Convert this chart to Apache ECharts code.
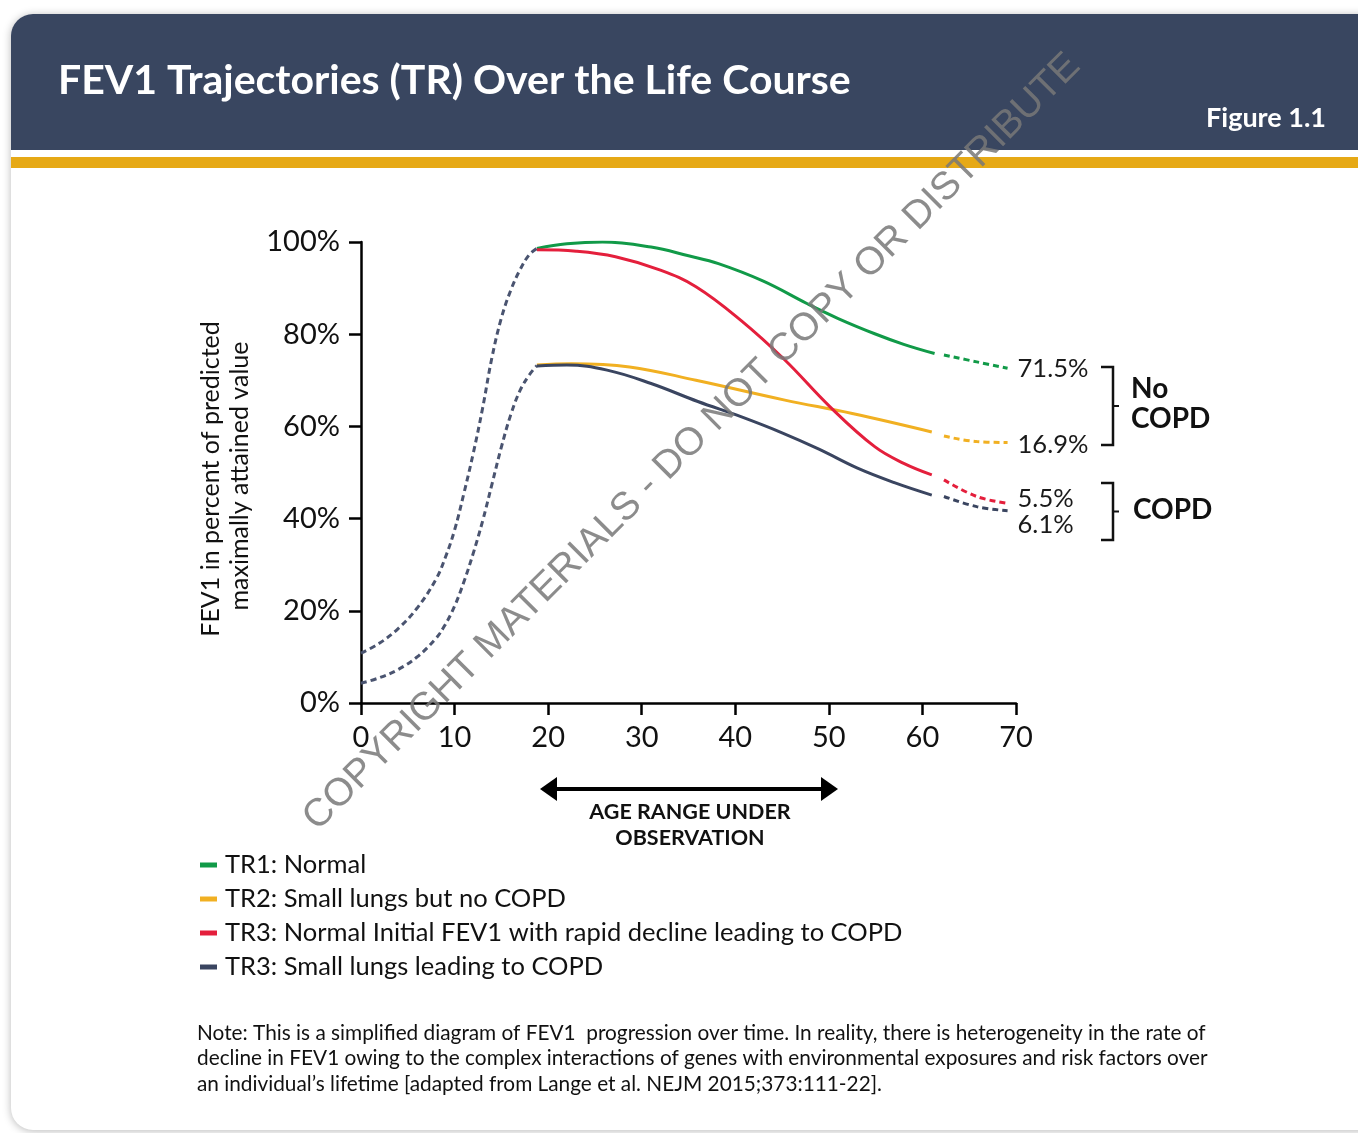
<!DOCTYPE html>
<html>
<head>
<meta charset="utf-8">
<script src="https://cdn.jsdelivr.net/npm/echarts@6/dist/echarts.min.js"></script>
<style>
	html, body { margin: 0; padding: 0; background: #fff; }
	#main { width: 1358px; height: 1133px; }
</style>
</head>
<body>
<div id="main"></div>
<script>
// data (age in years, FEV1 in % of max)
var names = ['TR1: Normal', 'TR2: Small lungs but no COPD', 'TR3: Normal Initial FEV1 with rapid decline leading to COPD', 'TR3: Small lungs leading to COPD'];
var colors = ['#119a48', '#f1b022', '#e41f3c', '#3a4560'];
var shares = ['71.5%', '16.9%', '5.5%', '6.1%'];

// growth phase (dashed, before age ~19)
var growAges = [0, 2, 4, 6, 8, 9, 10, 11, 12, 13, 14, 15, 16, 17, 18, 18.8];
var growHigh = [10.8, 13, 16.2, 20.6, 26.8, 31.5, 37.5, 45.5, 54.2, 64, 75, 83.5, 89.5, 94, 97.3, 98.6];
var growLow = [4.3, 5.5, 7.3, 10, 14, 17, 21, 26.3, 32.5, 39.5, 47.5, 55.5, 62.5, 67.8, 71.2, 73.2];

// observed part (solid)
var tr1Ages = [18.8, 22, 25.8, 31, 35, 38.2, 43, 47.7, 51, 54.9, 58, 61.3];
var tr1 = [98.6, 99.6, 100, 98.9, 97, 95.3, 91.5, 86.6, 83.4, 80.1, 77.8, 75.8];
var tr2Ages = [18.8, 22.5, 28.7, 35.8, 45.3, 52.5, 61];
var tr2 = [73.3, 73.6, 72.9, 70, 65.7, 62.8, 58.8];
var tr3Ages = [18.8, 23, 27.2, 32, 35.8, 40.6, 45.3, 50.1, 54.9, 58, 61];
var tr3 = [98.3, 98, 96.8, 93.9, 90.3, 83, 74.4, 64.3, 55.6, 52, 49.5];
var tr4Ages = [18.8, 22, 26.3, 31, 36, 40.6, 45, 49, 53, 57, 61];
var tr4 = [73.1, 73.3, 72.2, 69.3, 65.4, 62.1, 58.6, 55.0, 51.0, 47.8, 45.1];

// projected part (dashed)
var tailAges = [62.3, 65.8, 69.1];
var tail1 = [75.5, 74, 72.6];
var tail2 = [57.9, 56.7, 56.5];
var tail3 = [48.4, 44.8, 43.3];
var tail4 = [44.8, 42.6, 41.7];

var xTicks = [0, 70, 10];
var yTicks = [0, 100, 20];

var pairs = function(x, y){
	var out = [];
	for(var i = 0; i < x.length; i++){
		out.push([x[i], y[i]]);
	}
	return out;
}

var solidLine = function(name, x, y, color){
	return {
		name: name, type: 'line', data: pairs(x, y),
		smooth: 0.4, showSymbol: false, silent: true,
		lineStyle: {color: color, width: 3},
		itemStyle: {color: color}
	};
}

var dashLine = function(x, y, color, share, offset){
	var s = {
		type: 'line', data: pairs(x, y),
		smooth: 0.4, showSymbol: false, silent: true,
		lineStyle: {color: color, width: 3, type: [6, 4]},
		itemStyle: {color: color}
	};
	if(share){
		s.endLabel = {
			show: true, formatter: share, distance: 10, offset: offset,
			fontFamily: 'Lato', fontSize: 25.5, color: '#1a1a1a'
		};
	}
	return s;
}

var font = 'Lato';
var tails = [tail1, tail2, tail3, tail4];
var labelOffsets = [[0, 0], [0, 2], [0, -5], [0, 14]];

var series = [
	dashLine(growAges, growHigh, '#4a5470'),
	dashLine(growAges, growLow, '#4a5470'),
	solidLine(names[0], tr1Ages, tr1, colors[0]),
	solidLine(names[1], tr2Ages, tr2, colors[1]),
	solidLine(names[2], tr3Ages, tr3, colors[2]),
	solidLine(names[3], tr4Ages, tr4, colors[3])
];
for(var i = 0; i < 4; i++){
	series.push(dashLine(tailAges, tails[i], colors[i], shares[i], labelOffsets[i]));
}

var txt = function(x, y, text, size, opt){
	opt = opt || {};
	return {
		type: 'text', x: x, y: y, rotation: opt.rotation || 0, z: opt.z || 10,
		style: {
			text: text, fill: opt.fill || '#111', fontFamily: opt.family || font,
			fontSize: size, fontWeight: opt.weight || 'normal',
			align: opt.align || 'left', verticalAlign: 'middle'
		}
	};
}

var bracket = function(top, bottom){
	var mid = (top + bottom) / 2;
	return [
		{type: 'polyline', z: 10, shape: {points: [[1101, top], [1113, top], [1113, bottom], [1101, bottom]]}, style: {stroke: '#111', lineWidth: 2.5, fill: null}},
		{type: 'line', z: 10, shape: {x1: 1113, y1: mid, x2: 1119, y2: mid}, style: {stroke: '#111', lineWidth: 2}}
	];
}

var graphics = [
	{type: 'rect', z: -5, shape: {x: 11, y: 14, width: 1360, height: 1116, r: [22, 0, 0, 22]},
		style: {fill: '#fff', shadowBlur: 8, shadowColor: 'rgba(0,0,0,0.28)', shadowOffsetY: 1}},
	{type: 'rect', z: -4, shape: {x: 11, y: 14, width: 1360, height: 136, r: [22, 0, 0, 0]}, style: {fill: '#394660'}},
	{type: 'rect', z: -4, shape: {x: 11, y: 157, width: 1360, height: 11}, style: {fill: '#e6a916'}},
	txt(58, 81, 'FEV1 Trajectories (TR) Over the Life Course', 41, {fill: '#fff', weight: 'bold'}),
	txt(1326, 118, 'Figure 1.1', 27, {fill: '#fff', weight: 'bold', align: 'right'}),
	txt(211, 479, 'FEV1 in percent of predicted', 25, {rotation: Math.PI / 2, align: 'center'}),
	txt(240, 476, 'maximally attained value', 25, {rotation: Math.PI / 2, align: 'center'}),
	// age range arrow
	{type: 'line', z: 10, shape: {x1: 552, y1: 789, x2: 826, y2: 789}, style: {stroke: '#000', lineWidth: 4}},
	{type: 'polygon', z: 10, shape: {points: [[540, 789], [557, 777], [557, 801]]}, style: {fill: '#000'}},
	{type: 'polygon', z: 10, shape: {points: [[838, 789], [821, 777], [821, 801]]}, style: {fill: '#000'}},
	txt(690, 812, 'AGE RANGE UNDER', 21.5, {weight: 'bold', align: 'center'}),
	txt(690, 838, 'OBSERVATION', 21.5, {weight: 'bold', align: 'center'}),
	txt(1131, 389, 'No', 28, {weight: 'bold'}),
	txt(1131, 419, 'COPD', 28, {weight: 'bold'}),
	txt(1133, 510, 'COPD', 28, {weight: 'bold'}),
	txt(197, 1033, 'Note: This is a simplified diagram of FEV1  progression over time. In reality, there is heterogeneity in the rate of', 20.8),
	txt(197, 1058, 'decline in FEV1 owing to the complex interactions of genes with environmental exposures and risk factors over', 20.8),
	txt(197, 1084, 'an individual\u2019s lifetime [adapted from Lange et al. NEJM 2015;373:111-22].', 20.8),
	// watermark
	txt(692, 442, 'COPYRIGHT MATERIALS - DO NOT COPY OR DISTRIBUTE', 39,
		{rotation: Math.PI / 4, align: 'center', family: 'Liberation Sans', fill: 'rgba(120,120,120,0.85)', z: 100})
].concat(bracket(367, 445), bracket(483, 540));

var legendData = [];
for(var i = 0; i < names.length; i++){
	legendData.push({name: names[i], icon: 'rect'});
}

var chart = echarts.init(document.getElementById('main'));
chart.setOption({
	animation: false,
	backgroundColor: '#fff',
	grid: {left: 361, right: 342, top: 242, bottom: 430},
	legend: {
		data: legendData, orient: 'vertical', left: 195, top: 847,
		itemWidth: 17, itemHeight: 5, itemGap: 8, selectedMode: false,
		textStyle: {fontFamily: font, fontSize: 25.5, color: '#111', padding: [0, 0, 0, 3]}
	},
	xAxis: {
		type: 'value', min: xTicks[0], max: xTicks[1], interval: xTicks[2],
		axisLine: {lineStyle: {color: '#000', width: 2.5}},
		axisTick: {length: 12, lineStyle: {color: '#000', width: 2.5}},
		axisLabel: {fontFamily: font, fontSize: 29, color: '#111', margin: 20},
		splitLine: {show: false}
	},
	yAxis: {
		type: 'value', min: yTicks[0], max: yTicks[1], interval: yTicks[2],
		axisLine: {show: true, lineStyle: {color: '#000', width: 2.5}},
		axisTick: {show: true, length: 12, lineStyle: {color: '#000', width: 2.5}},
		axisLabel: {fontFamily: font, fontSize: 29, color: '#111', margin: 21, formatter: '{value}%'},
		splitLine: {show: false}
	},
	graphic: graphics,
	series: series
});
</script>
</body>
</html>
